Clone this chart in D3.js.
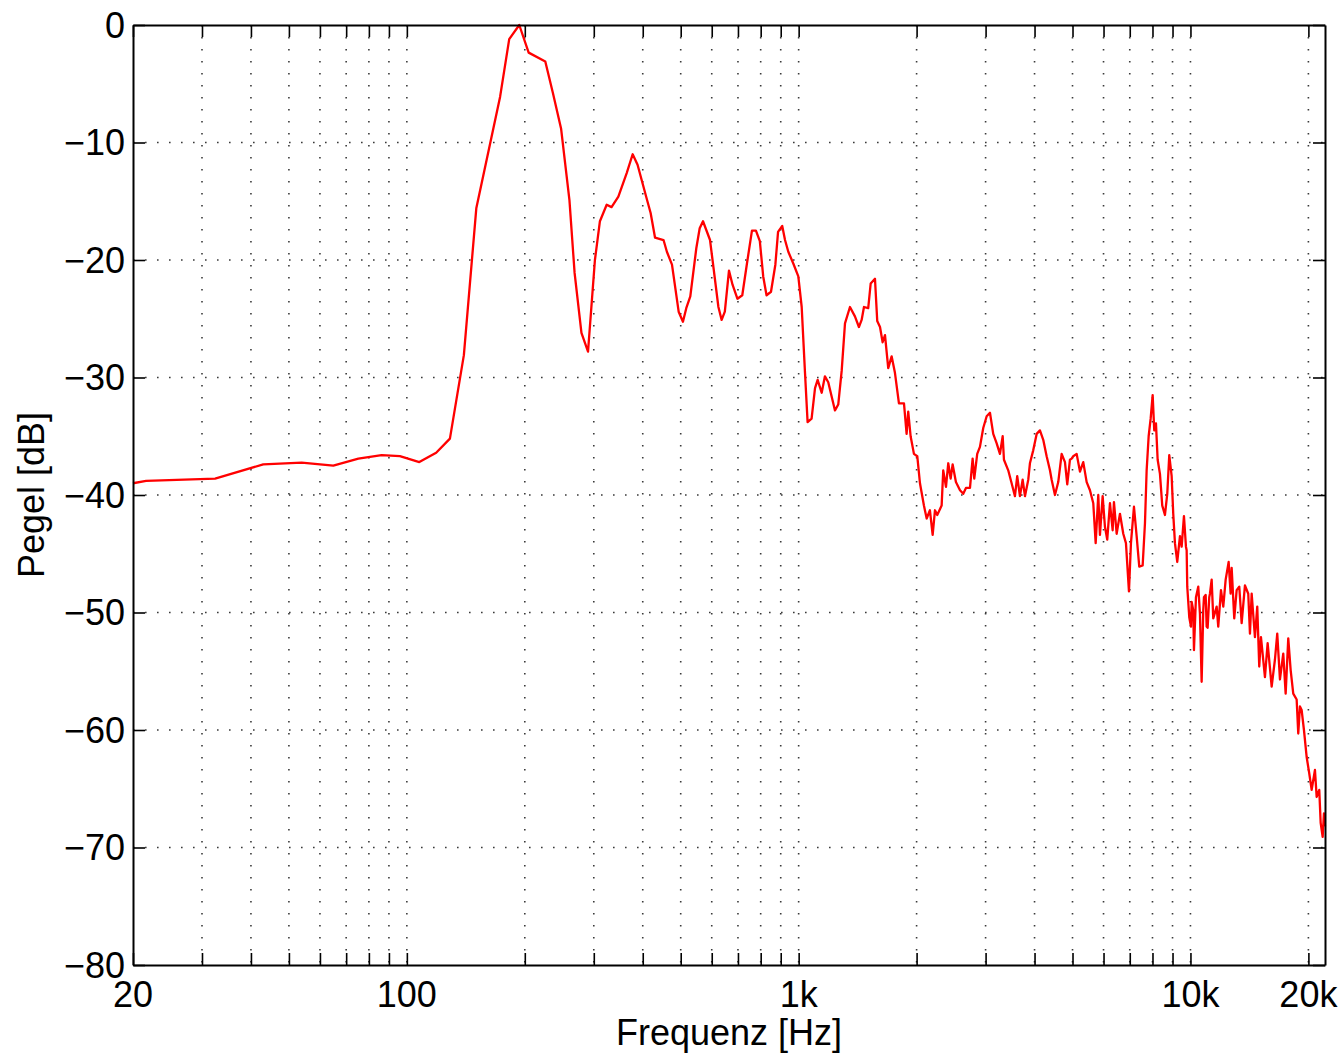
<!DOCTYPE html>
<html>
<head>
<meta charset="utf-8">
<script src="https://cdn.jsdelivr.net/npm/d3@7"></script>
<style>
  html, body { margin: 0; padding: 0; background: #fff; }
  svg { display: block; }
  text { font-family: "Liberation Sans", Arial, Helvetica, sans-serif; fill: #000; }
</style>
</head>
<body>
<svg id="chart" width="1344" height="1054"></svg>
<script>
// ---- data ----
const freqHz = [
  20, 21.6, 32.4, 43.0, 53.9, 64.9, 75.2, 86.2, 96, 107.6, 118.8, 128.8, 139.8, 150.4, 173, 182.5, 193.6, 204.6, 225.6, 236,
  247.5, 260, 268, 279, 290, 302, 311, 323.6, 333, 346.6, 364, 377, 388, 408, 419, 430, 452, 461, 475, 494,
  506.6, 516.6, 529, 548, 559, 570, 594, 606, 624, 636, 648, 664, 678, 698, 718, 738, 760, 778, 796, 812,
  828, 850, 872, 886, 908, 923, 941, 969, 998, 1018, 1038, 1054, 1079, 1101, 1118, 1145, 1167, 1190, 1238, 1262,
  1288, 1313, 1352, 1392, 1425, 1448, 1468, 1505, 1527, 1566, 1587, 1613, 1638, 1661, 1693, 1727, 1761, 1803, 1857, 1886,
  1904, 1931, 1969, 2008, 2040, 2088, 2122, 2163, 2198, 2228, 2258, 2317, 2339, 2377, 2409, 2443, 2472, 2520, 2581, 2631,
  2673, 2737, 2780, 2807, 2856, 2902, 2959, 3019, 3078, 3138, 3202, 3264, 3317, 3342, 3427, 3496, 3565, 3613, 3671, 3730,
  3781, 3855, 3893, 3969, 4050, 4129, 4210, 4295, 4379, 4423, 4510, 4598, 4691, 4783, 4848, 4925, 4975, 5022, 5123, 5224,
  5326, 5434, 5540, 5649, 5729, 5817, 5875, 5969, 6050, 6132, 6231, 6330, 6379, 6481, 6608, 6738, 6845, 6967, 7049, 7175,
  7289, 7402, 7551, 7654, 7730, 7822, 7914, 8008, 8084, 8165, 8247, 8359, 8473, 8608, 8726, 8829, 8954, 9038, 9129, 9253,
  9402, 9496, 9625, 9739, 9779, 9814, 9930, 10029, 10071, 10166, 10208, 10329, 10469, 10574, 10680, 10782, 10826, 10935, 10999, 11063,
  11168, 11214, 11327, 11434, 11503, 11665, 11775, 11965, 12128, 12299, 12517, 12613, 12665, 12740, 12936, 13120, 13322, 13511, 13776, 14045,
  14187, 14329, 14609, 14808, 14982, 15134, 15493, 15740, 16116, 16431, 16654, 16921, 17253, 17498, 17768, 18020, 18298, 18666, 18843, 19032,
  19223, 19485, 19797, 20102, 20387, 20786, 20995, 21319, 21495, 21748, 21916, 22050
];
const levelDb = [
  -39.0, -38.8, -38.6, -37.4, -37.25, -37.5, -36.9, -36.6, -36.7, -37.2, -36.4, -35.2, -28.1, -15.6, -6.1, -1.2, 0, -2.35, -3.1, -5.8,
  -8.8, -14.9, -21.1, -26.2, -27.8, -20.0, -16.7, -15.3, -15.5, -14.6, -12.6, -11.0, -11.9, -14.6, -16.0, -18.1, -18.3, -19.3, -20.4, -24.4,
  -25.25, -24.1, -23.1, -19.0, -17.3, -16.7, -18.3, -20.6, -24.0, -25.1, -24.4, -20.9, -22.1, -23.3, -23.0, -20.3, -17.5, -17.5, -18.4, -21.4,
  -23.0, -22.7, -20.4, -17.6, -17.1, -18.3, -19.3, -20.3, -21.4, -24.0, -29.6, -33.8, -33.5, -30.9, -30.2, -31.3, -29.9, -30.4, -32.8, -32.3,
  -29.4, -25.4, -24.0, -24.8, -25.7, -25.1, -24.0, -24.1, -22.0, -21.6, -25.2, -25.7, -27.0, -26.4, -29.2, -28.2, -29.6, -32.2, -32.2, -34.8,
  -32.9, -35.0, -36.5, -36.7, -39.0, -40.9, -42.0, -41.3, -43.4, -41.3, -41.7, -40.9, -37.9, -39.3, -37.3, -38.6, -37.4, -38.9, -39.6, -39.9,
  -39.4, -39.4, -36.9, -38.6, -36.5, -35.9, -34.3, -33.3, -33.0, -34.8, -35.6, -36.5, -35.0, -37.0, -37.9, -39.0, -40.1, -38.4, -40.1, -38.7,
  -40.1, -38.7, -37.3, -36.2, -34.8, -34.5, -35.3, -36.7, -37.9, -38.7, -40.0, -38.9, -36.5, -37.2, -39.1, -37.0, -36.9, -36.7, -36.5, -38.0,
  -37.2, -38.9, -39.6, -40.7, -44.1, -40.0, -43.4, -40.1, -42.7, -43.8, -40.7, -43.0, -40.6, -43.3, -41.6, -43.3, -44.1, -48.2, -44.1, -41.0,
  -43.5, -46.1, -46.0, -42.4, -37.9, -35.0, -33.5, -31.5, -34.5, -33.9, -37.0, -38.2, -40.9, -41.7, -39.9, -36.6, -38.4, -41.6, -44.1, -45.7,
  -43.5, -44.4, -41.8, -44.4, -44.7, -47.8, -50.4, -51.2, -49.1, -49.8, -53.2, -48.7, -47.8, -50.1, -55.9, -49.8, -48.7, -48.5, -51.2, -51.3,
  -48.7, -48.4, -47.2, -50.5, -50.2, -49.5, -51.2, -48.1, -49.5, -47.2, -45.7, -47.5, -48.4, -46.2, -50.5, -48.1, -47.8, -50.9, -47.7, -48.4,
  -51.8, -48.4, -52.1, -49.5, -54.6, -52.1, -55.5, -52.6, -56.3, -54.0, -51.8, -55.7, -53.5, -56.9, -52.2, -54.9, -56.9, -57.4, -60.3, -58.0,
  -58.3, -60.0, -62.3, -63.7, -65.1, -63.4, -65.7, -65.1, -67.9, -69.1, -67.1, -68.2
];
const xTickValues = [20, 100, 1000, 10000, 20000];
const xTickLabels = ["20", "100", "1k", "10k", "20k"];
const yTickValues = [0, -10, -20, -30, -40, -50, -60, -70, -80];
const xLabel = "Frequenz [Hz]";
const yLabel = "Pegel [dB]";

// ---- layout ----
const mLeft = 133, mRight = 1325, mTop = 25, mBottom = 965;
const fontSize = 36;
const tickLen = 12;

const svg = d3.select("#chart");
const x = d3.scaleLog().domain([20, 22050]).range([mLeft, mRight]);
const y = d3.scaleLinear().domain([-80, 0]).range([mBottom, mTop]);

const xGrid = x.ticks().filter(v => v >= 20 && v <= 22050);

// grid
const grid = svg.append("g").attr("stroke", "#3a3a3a").attr("stroke-width", 1.6)
  .attr("stroke-dasharray", "1.6,10.4").attr("fill", "none");
grid.selectAll("line.v").data(xGrid.filter(v => v > 20)).join("line")
  .attr("class", "v")
  .attr("x1", d => x(d)).attr("x2", d => x(d)).attr("y1", mTop).attr("y2", mBottom);
grid.selectAll("line.h").data(yTickValues.filter(v => v > -80 && v < 0)).join("line")
  .attr("class", "h")
  .attr("x1", mLeft).attr("x2", mRight).attr("y1", d => y(d)).attr("y2", d => y(d));

// data line
const line = d3.line().x((d, i) => x(freqHz[i])).y(d => y(d));
svg.append("path").datum(levelDb)
  .attr("d", line)
  .attr("fill", "none")
  .attr("stroke", "#ff0000")
  .attr("stroke-width", 2.3)
  .attr("stroke-linejoin", "round");

// axes (box)
const axBottom = d3.axisBottom(x).tickValues(xGrid).tickSizeInner(-tickLen).tickSizeOuter(0).tickFormat("");
const axTop = d3.axisTop(x).tickValues(xGrid).tickSizeInner(-tickLen).tickSizeOuter(0).tickFormat("");
const axLeft = d3.axisLeft(y).tickValues(yTickValues).tickSizeInner(-tickLen).tickSizeOuter(0).tickFormat("");
const axRight = d3.axisRight(y).tickValues(yTickValues).tickSizeInner(-tickLen).tickSizeOuter(0).tickFormat("");

function styleAxis(g) {
  g.select(".domain").attr("stroke", "#000").attr("stroke-width", 2);
  g.selectAll(".tick line").attr("stroke", "#000").attr("stroke-width", 1.6);
}
svg.append("g").attr("transform", `translate(0,${mBottom})`).call(axBottom).call(styleAxis);
svg.append("g").attr("transform", `translate(0,${mTop})`).call(axTop).call(styleAxis);
svg.append("g").attr("transform", `translate(${mLeft},0)`).call(axLeft).call(styleAxis);
svg.append("g").attr("transform", `translate(${mRight},0)`).call(axRight).call(styleAxis);

// tick labels
svg.append("g").selectAll("text").data(xTickValues).join("text")
  .attr("x", d => x(d)).attr("y", mBottom + 42)
  .attr("text-anchor", "middle").attr("font-size", fontSize)
  .text((d, i) => xTickLabels[i]);

svg.append("g").selectAll("text").data(yTickValues).join("text")
  .attr("x", mLeft - 8).attr("y", d => y(d))
  .attr("dy", "0.36em")
  .attr("text-anchor", "end").attr("font-size", fontSize)
  .text(d => d === 0 ? "0" : "\u2212" + Math.abs(d));

// axis titles
svg.append("text").attr("x", (mLeft + mRight) / 2).attr("y", 1045)
  .attr("text-anchor", "middle").attr("font-size", fontSize).text(xLabel);
svg.append("text")
  .attr("transform", `translate(44,${(mTop + mBottom) / 2}) rotate(-90)`)
  .attr("text-anchor", "middle").attr("font-size", fontSize).text(yLabel);
</script>
</body>
</html>
